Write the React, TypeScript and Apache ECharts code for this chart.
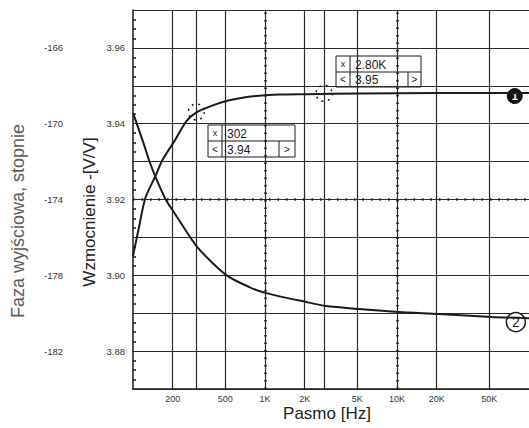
import React, { useEffect, useRef } from 'react';
import * as echarts from 'echarts';

// X axis (log, Hz)
const freqTicks = [200, 500, 1000, 2000, 5000, 10000, 20000, 50000];
const freqTickLabels = ['200', '500', '1K', '2K', '5K', '10K', '20K', '50K'];

// Curve 1: gain [V/V]
const gainFreq = [100, 110, 124, 148, 167, 206, 254, 307, 392, 509, 660, 860, 1280, 2050, 5150, 20700, 100000];
const gainValues = [3.9051, 3.912, 3.9204, 3.9262, 3.9304, 3.9354, 3.9407, 3.9431, 3.9447, 3.946, 3.9468, 3.9473, 3.9477, 3.9478, 3.948, 3.9481, 3.9481];

// Curve 2: output phase [deg]
const phaseFreq = [100, 111, 122, 133, 148, 176, 206, 307, 509, 760, 1020, 2050, 2900, 5150, 10300, 20700, 52200, 100000];
const phaseValues = [-169.43, -170.33, -171.17, -171.97, -172.81, -173.97, -174.71, -176.51, -177.99, -178.62, -178.94, -179.41, -179.62, -179.78, -179.94, -180.04, -180.2, -180.26];

// Cursors
const cursorFreqs = [302, 2800];
const cursorGains = [3.9431, 3.948];
const cursorReadX = ['302', '2.80K'];
const cursorReadY = ['3.94', '3.95'];

// Curve labels
const curve1Label = { f: 78000, v: 3.9473, text: '1' };
const curve2Label = { f: 79500, v: -180.47, text: '2' };

const FONT = "'Liberation Sans', Arial, sans-serif";
const INK = '#1b1b1b';
const GRID = '#2a2a2a';

function readoutBox(x: number, y: number, w: number, h: number, valW: number, xs: string, ys: string) {
  const mid = y + Math.round(h / 2);
  const cellW = 14;
  const t = (text: string, tx: number, ty: number, size: number, align: string) => ({
    type: 'text', x: tx, y: ty,
    style: { text, fontSize: size, fill: INK, fontFamily: FONT, align, verticalAlign: 'middle' },
  });
  return {
    type: 'group', z: 100,
    children: [
      { type: 'rect', shape: { x, y, width: w, height: h }, style: { fill: '#fff', stroke: INK, lineWidth: 1 } },
      { type: 'line', shape: { x1: x, y1: mid, x2: x + w, y2: mid }, style: { stroke: INK, lineWidth: 1 } },
      { type: 'line', shape: { x1: x + cellW, y1: y, x2: x + cellW, y2: y + h }, style: { stroke: INK, lineWidth: 1 } },
      { type: 'line', shape: { x1: x + cellW + valW, y1: mid, x2: x + cellW + valW, y2: y + h }, style: { stroke: INK, lineWidth: 1 } },
      t('x', x + cellW / 2, (y + mid) / 2, 9, 'center'),
      t(xs, x + cellW + 5, (y + mid) / 2 + 0.5, 12, 'left'),
      t('<', x + cellW / 2, (mid + y + h) / 2, 10, 'center'),
      t(ys, x + cellW + 5, (mid + y + h) / 2 + 0.5, 12, 'left'),
      t('>', x + cellW + valW + (w - cellW - valW) / 2, (mid + y + h) / 2, 10, 'center'),
    ],
  };
}

export default function App() {
  const ref = useRef<HTMLDivElement>(null);
  useEffect(() => {
    if (!ref.current) return;
    const chart = echarts.init(ref.current, null, { renderer: 'svg' });
    const option: any = {
      animation: false,
      backgroundColor: '#fff',
      textStyle: { fontFamily: FONT },
      grid: { left: 133, top: 10, width: 397, height: 379, containLabel: false },
      xAxis: {
        type: 'log', logBase: 10, min: 100, max: 100000,
        axisLine: { show: true, onZero: false, lineStyle: { color: INK, width: 1.5 } },
        axisTick: { show: false, customValues: freqTicks },
        axisLabel: {
          customValues: freqTicks,
          formatter: (v: number) => {
            const i = freqTicks.findIndex((f) => Math.abs(f - v) / f < 0.01);
            return i >= 0 ? freqTickLabels[i] : '';
          },
          fontSize: 9, color: '#333', margin: 5, fontFamily: FONT,
          showMinLabel: true, showMaxLabel: true, hideOverlap: false,
        },
        splitLine: { show: true, lineStyle: { color: GRID, width: 1.2 } },
      },
      yAxis: [
        {
          type: 'value', min: 3.87, max: 3.97, interval: 0.01, position: 'left',
          axisLine: { show: true, onZero: false, lineStyle: { color: INK, width: 1.5 } },
          axisTick: { show: false, inside: true },
          minorTick: { show: true, splitNumber: 4, length: 3, lineStyle: { color: INK, width: 1.5 } },
          axisLabel: {
            formatter: (v: number) => (Math.round(v * 100) % 2 === 0 ? v.toFixed(2) : ''),
            fontSize: 9.5, color: '#333', margin: 8, fontFamily: FONT,
          },
          splitLine: { show: true, lineStyle: { color: GRID, width: 1.2 } },
        },
        {
          type: 'value', min: -184, max: -164, interval: 2, position: 'left', offset: 62,
          axisLine: { show: false }, axisTick: { show: false }, splitLine: { show: false },
          axisLabel: {
            formatter: (v: number) => {
              const k = Math.round((v + 184) / 2);
              return k % 2 === 1 ? String(Math.round(v)) : '';
            },
            fontSize: 9.5, color: '#333', margin: 8, fontFamily: FONT,
          },
        },
      ],
      series: [
        {
          name: 'Wzmocnienie', type: 'line', xAxisIndex: 0, yAxisIndex: 0,
          data: gainFreq.map((f, i) => [f, gainValues[i]]),
          smooth: 0.25, symbol: 'none',
          lineStyle: { color: INK, width: 2 }, z: 5,
          markLine: {
            silent: true, symbol: 'none', label: { show: false },
            data: [
              ...cursorFreqs.map((f) => ({ xAxis: f, lineStyle: { color: GRID, width: 1.2, type: 'solid' } })),
              { xAxis: 1000, lineStyle: { color: INK, width: 2.5, type: [1.5, 6] } },
              { xAxis: 10000, lineStyle: { color: INK, width: 2.5, type: [1.5, 6] } },
              { yAxis: 3.92, lineStyle: { color: INK, width: 2.5, type: [1.5, 7] } },
            ],
          },
          markPoint: {
            silent: true,
            data: [
              ...cursorFreqs.map((f, i) => ({
                coord: [f, cursorGains[i]], symbol: 'circle', symbolSize: 16,
                itemStyle: { color: 'rgba(0,0,0,0)', borderColor: INK, borderWidth: 1.5, borderType: [2, 4.5] },
                label: { show: false },
              })),
              {
                coord: [curve1Label.f, curve1Label.v], symbol: 'circle', symbolSize: 15,
                itemStyle: { color: '#111', borderColor: '#111', borderWidth: 1 },
                label: { show: true, formatter: curve1Label.text, color: '#fff', fontSize: 11, fontWeight: 'bold', position: 'inside', fontFamily: FONT },
              },
            ],
          },
        },
        {
          name: 'Faza', type: 'line', xAxisIndex: 0, yAxisIndex: 1,
          data: phaseFreq.map((f, i) => [f, phaseValues[i]]),
          smooth: 0.25, symbol: 'none',
          lineStyle: { color: INK, width: 2 }, z: 5,
          markPoint: {
            silent: true,
            data: [
              {
                coord: [curve2Label.f, curve2Label.v], symbol: 'circle', symbolSize: 19,
                itemStyle: { color: '#fff', borderColor: INK, borderWidth: 1.5 },
                label: { show: true, formatter: curve2Label.text, color: INK, fontSize: 14, position: 'inside', fontFamily: FONT },
              },
            ],
          },
        },
      ],
      graphic: [
        {
          type: 'text', x: 18, y: 221, rotation: Math.PI / 2, z: 100,
          style: { text: 'Faza wyjściowa, stopnie', fontSize: 18, fill: '#5a5a5a', fontFamily: FONT, align: 'center', verticalAlign: 'middle' },
        },
        {
          type: 'text', x: 89, y: 212, rotation: Math.PI / 2, z: 100,
          style: { text: 'Wzmocnienie -[V/V]', fontSize: 17, fill: '#222', fontFamily: FONT, align: 'center', verticalAlign: 'middle' },
        },
        {
          type: 'text', x: 327, y: 413, z: 100,
          style: { text: 'Pasmo [Hz]', fontSize: 17, fill: '#222', fontFamily: FONT, align: 'center', verticalAlign: 'middle' },
        },
        readoutBox(208, 125, 87, 32, 57, cursorReadX[0], cursorReadY[0]),
        readoutBox(336, 56, 85, 31, 58, cursorReadX[1], cursorReadY[1]),
      ],
    };
    chart.setOption(option);
    return () => chart.dispose();
  }, []);
  return (
    <div style={{ position: 'absolute', left: 0, top: 0, width: 529, height: 428, background: '#fff' }}>
      <div ref={ref} style={{ width: 529, height: 428 }} />
    </div>
  );
}
